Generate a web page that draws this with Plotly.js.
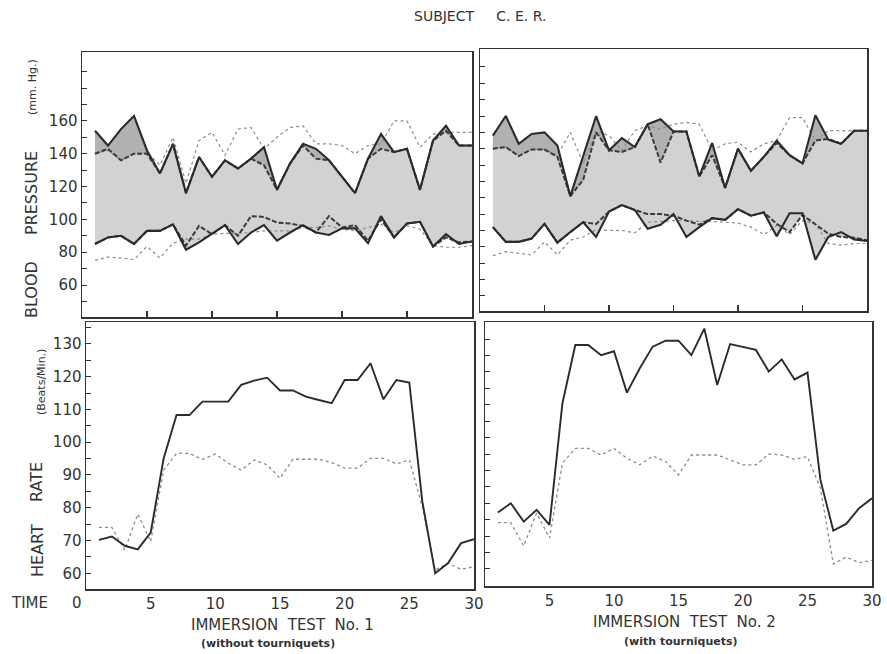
<!DOCTYPE html>
<html>
<head>
<meta charset="utf-8">
<script src="https://cdn.plot.ly/plotly-3.0.1.min.js"></script>
<style>html,body{margin:0;padding:0;background:#fff;}#chart{width:887px;height:654px;}</style>
</head>
<body>
<div id="chart"></div>
<script>
// Time (minutes)
const time = [1,2,3,4,5,6,7,8,9,10,11,12,13,14,15,16,17,18,19,20,21,22,23,24,25,26,27,28,29,30];

// Test No. 1 (without tourniquets) - blood pressure (mm Hg)
const t1SysSolid  = [154,145,155,163,142,128,146,116,138,126,136,131,137,144,118,134,146,143,136,126,116,137,152,141,143,118,148,157,145,145];
const t1SysDashed = [140,143,136,140,140,128,146,116,138,126,136,131,137,133,118,134,145,137,136,126,116,137,143,141,143,118,148,154,145,145];
const t1SysDotted = [140,142,136,140,141,133,150,122,148,153,139,155,156,143,150,156,157,146,146,145,140,145,146,160,160,144,152,153,153,153];
const t1DiaSolid  = [85,89,90,85,93,93,97,81.5,86,91,96.5,85,92,96.5,87,92,96.5,92,90.5,94.5,94.5,85.5,102,89,97.5,98.5,83.5,91,85,86.5];
const t1DiaDashed = [85,89,90,85,93,93,97,84,96,91,96.5,90,102,101.5,98,97.5,96,92,102,95,96.5,87,100,89,97.5,98.5,83.5,89,86,86.5];
const t1DiaDotted = [75,77,76.5,75.5,83.5,76.5,85.5,88,88,91,91.5,91.5,92,93,93,93,95,95,96,94,93,95,97,92,96,94,84,83,83,84];

// Test No. 2 (with tourniquets) - blood pressure (mm Hg)
const t2SysSolid  = [148,160,143,149,150,142,111,136,160,139,146.5,141,155,158,150.5,150.5,123,143.5,116,140,126.5,135,145,136,131,160.5,145.5,143,151,151];
const t2SysDashed = [140,141,135.5,139.5,139.5,135,111,121,150,139,138,141,155,131.5,150.5,150.5,123,136,116,140,126.5,135,143.5,136,131,145,146,143,151,151];
const t2SysDotted = [140,141,135.5,139.5,139.5,136,150,131,151,148,139,151,154,152,155,156,155,139,143,144,138,143,145,159,159,145,151,151,151,151];
const t2DiaSolid  = [92,83,83,85,94,82.5,89,95,86,101.5,105.5,102.5,91,93.5,100,86,92,97.5,96.5,103,99,101,86.5,100.5,100.5,72,86,89,84.5,83.5];
const t2DiaDashed = [92,83,83,85,94,82.5,89,95,94,101.5,105.5,102.5,100,100,99,96,93.5,97.5,96.5,103,99,101,94,89,99.5,94,88,86,85.5,84];
const t2DiaDotted = [74.5,77,76,75,83,75,84,86,90.5,90,90,88.5,95,95.5,96,96,95.5,95.5,95,94.5,92,87.5,93,87.5,96,94,82,81,82,82];

// Heart rate (beats/min)
const t1HrSolid  = [70.2,71.2,68.4,67.3,72.4,95,108.3,108.3,112.4,112.4,112.4,117.5,118.8,119.7,115.8,115.8,113.9,112.9,111.9,119,119,124.1,113.1,119,118.2,82,60,63.1,69.2,70.4];
const t1HrDotted = [74,74,67.1,78.1,69.7,91.5,96.6,96.6,94.8,96.4,93.6,91.5,94.6,93.1,89,94.8,94.8,94.8,93.8,92.1,92.1,95.1,95.1,93.4,94.6,80.4,61,63.1,61.2,62];
const t2HrSolid  = [77.2,80,74.4,78,73.4,110.4,128.2,128.2,125.1,126.3,113.7,121.1,127.7,129.5,129.5,125.1,133.2,116,128.5,127.7,126.7,120.1,123.8,117.7,119.8,87.1,71.7,73.7,78.5,81.5];
const t2HrDotted = [74.1,74.1,67,77,69.4,92.2,96.7,96.7,94.7,96.7,93.7,91.7,94.4,92.7,88.6,94.7,94.7,94.7,93.2,91.7,91.7,95,94.7,93.4,94.2,84.6,61.5,63.6,61.9,62.6];

// Tick labels
const bpTickVals = [50,60,70,80,90,100,110,120,130,140,150,160,170,180,190];
const bpTickText = ['','60','','80','','100','','120','','140','','160','','',''];
const hrTickVals = [60,65,70,75,80,85,90,95,100,105,110,115,120,125,130,135];
const hrTickText = ['60','','70','','80','','90','','100','','110','','120','','130',''];
const timeTickVals = [5,10,15,20,25,30];
const timeTickText = ['5','10','15','20','25','30'];

const W = 887, H = 654;
const px = v => v / W;
const py = v => 1 - v / H;

const INK = '#2b2b2b';
const LIGHT = '#d2d2d2';
const DARK = '#b1b1b1';
const FONT = 'DejaVu Sans';

function bpTraces(xa, ya, sysS, sysD, sysP, diaS, diaD, diaP) {
  const base = {x: time, xaxis: xa, yaxis: ya, mode: 'lines', hoverinfo: 'skip', showlegend: false};
  const none = {width: 0, color: 'rgba(0,0,0,0)'};
  return [
    Object.assign({}, base, {y: diaS, line: none}),
    Object.assign({}, base, {y: sysS, line: none, fill: 'tonexty', fillcolor: LIGHT}),
    Object.assign({}, base, {y: diaD, line: none}),
    Object.assign({}, base, {y: diaS, line: none, fill: 'tonexty', fillcolor: LIGHT}),
    Object.assign({}, base, {y: sysD, line: none}),
    Object.assign({}, base, {y: sysS, line: none, fill: 'tonexty', fillcolor: DARK}),
    Object.assign({}, base, {y: sysP, line: {color: '#8c8c8c', width: 1.2, dash: '3px,3px'}}),
    Object.assign({}, base, {y: diaP, line: {color: '#8c8c8c', width: 1.2, dash: '3px,3px'}}),
    Object.assign({}, base, {y: sysD, line: {color: '#3a3a3a', width: 2, dash: '5px,2px'}}),
    Object.assign({}, base, {y: diaD, line: {color: '#3a3a3a', width: 2, dash: '5px,2px'}}),
    Object.assign({}, base, {y: sysS, line: {color: INK, width: 2.1}}),
    Object.assign({}, base, {y: diaS, line: {color: INK, width: 2.1}})
  ];
}
function hrTraces(xa, ya, s, d) {
  const base = {x: time, xaxis: xa, yaxis: ya, mode: 'lines', hoverinfo: 'skip', showlegend: false};
  return [
    Object.assign({}, base, {y: d, line: {color: '#8c8c8c', width: 1.3, dash: '3px,3px'}}),
    Object.assign({}, base, {y: s, line: {color: INK, width: 1.9}})
  ];
}

const data = [].concat(
  bpTraces('x', 'y', t1SysSolid, t1SysDashed, t1SysDotted, t1DiaSolid, t1DiaDashed, t1DiaDotted),
  bpTraces('x2', 'y2', t2SysSolid, t2SysDashed, t2SysDotted, t2DiaSolid, t2DiaDashed, t2DiaDotted),
  hrTraces('x3', 'y3', t1HrSolid, t1HrDotted),
  hrTraces('x4', 'y4', t2HrSolid, t2HrDotted)
);

const frame = {showline: true, mirror: true, linecolor: '#333', linewidth: 1.5, showgrid: false, zeroline: false, fixedrange: true};
const tickFont = {family: FONT, size: 15, color: '#333'};

const topX = (dom, anchor) => Object.assign({}, frame, {domain: dom, anchor: anchor, range: [0, 30],
  tickmode: 'array', tickvals: [5,10,15,20,25], ticks: 'inside', ticklen: 6, tickcolor: '#333', tickwidth: 1.3, showticklabels: false});
const botX = (dom, anchor) => Object.assign({}, frame, {domain: dom, anchor: anchor, range: [0, 30],
  tickmode: 'array', tickvals: timeTickVals, ticktext: timeTickText, ticks: '', showticklabels: true, tickfont: tickFont});

const layout = {
  width: W, height: H,
  margin: {l: 0, r: 0, t: 0, b: 0},
  paper_bgcolor: '#fff', plot_bgcolor: '#fff',
  showlegend: false,
  font: {family: FONT, color: '#333'},
  xaxis:  topX([px(82), px(472)], 'y'),
  xaxis2: topX([px(480), px(867)], 'y2'),
  xaxis3: botX([px(86), px(474)], 'y3'),
  xaxis4: botX([px(485), px(872)], 'y4'),
  yaxis: Object.assign({}, frame, {domain: [py(317), py(52)], anchor: 'x', range: [40.5, 202],
    tickmode: 'array', tickvals: bpTickVals, ticktext: bpTickText, ticks: 'inside', ticklen: 5, tickcolor: '#333', tickfont: tickFont}),
  yaxis2: Object.assign({}, frame, {domain: [py(311), py(49)], anchor: 'x2', range: [40.7, 201],
    tickmode: 'array', tickvals: bpTickVals, ticks: 'inside', ticklen: 5, tickcolor: '#333', showticklabels: false}),
  yaxis3: Object.assign({}, frame, {domain: [py(589), py(322)], anchor: 'x3', range: [55.2, 136.7],
    tickmode: 'array', tickvals: hrTickVals, ticktext: hrTickText, ticks: 'inside', ticklen: 5, tickcolor: '#333', tickfont: tickFont}),
  yaxis4: Object.assign({}, frame, {domain: [py(586), py(322)], anchor: 'x4', range: [54.8, 135.2],
    tickmode: 'array', tickvals: hrTickVals, ticks: 'inside', ticklen: 5, tickcolor: '#333', showticklabels: false}),
  annotations: [
    {text: 'SUBJECT     C. E. R.', x: px(480), y: py(16), font: {family: FONT, size: 14, color: '#333'}},
    {text: 'BLOOD', x: px(32), y: py(290), textangle: -90, font: {family: FONT, size: 16, color: '#333'}},
    {text: 'PRESSURE', x: px(32), y: py(193), textangle: -90, font: {family: FONT, size: 16, color: '#333'}},
    {text: '(mm. Hg.)', x: px(33), y: py(87), textangle: -90, font: {family: FONT, size: 11, color: '#333'}},
    {text: 'HEART', x: px(37), y: py(551), textangle: -90, font: {family: FONT, size: 16, color: '#333'}},
    {text: 'RATE', x: px(37), y: py(482), textangle: -90, font: {family: FONT, size: 16, color: '#333'}},
    {text: '(Beats/Min.)', x: px(41), y: py(382), textangle: -90, font: {family: FONT, size: 11, color: '#333'}},
    {text: 'TIME', x: px(29), y: py(603), font: {family: FONT, size: 15, color: '#333'}},
    {text: '0', x: px(77), y: py(603), font: {family: FONT, size: 15, color: '#333'}},
    {text: 'IMMERSION  TEST  No. 1', x: px(282), y: py(625), font: {family: FONT, size: 15, color: '#333'}},
    {text: '(without tourniquets)', x: px(268), y: py(643), font: {family: FONT, size: 11, color: '#333', weight: 'bold'}},
    {text: 'IMMERSION  TEST  No. 2', x: px(684), y: py(622), font: {family: FONT, size: 15, color: '#333'}},
    {text: '(with tourniquets)', x: px(681), y: py(641), font: {family: FONT, size: 11, color: '#333', weight: 'bold'}}
  ].map(a => Object.assign({xref: 'paper', yref: 'paper', showarrow: false, xanchor: 'center', yanchor: 'middle'}, a))
};

Plotly.newPlot('chart', data, layout, {staticPlot: true, displayModeBar: false});
</script>
</body>
</html>
